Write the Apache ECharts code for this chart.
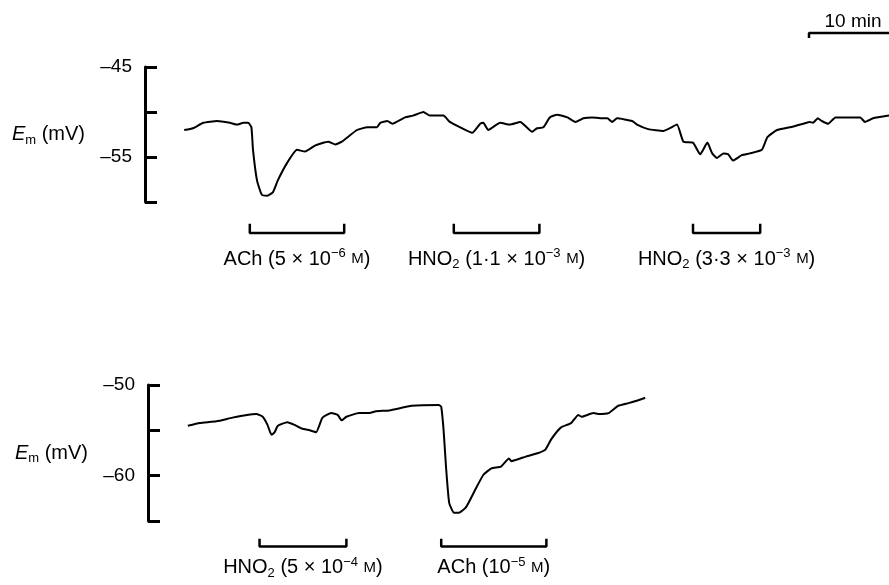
<!DOCTYPE html>
<html>
<head>
<meta charset="utf-8">
<title>Em traces</title>
<script src="https://cdn.jsdelivr.net/npm/echarts@6/dist/echarts.min.js"></script>
<style>
  html, body { margin: 0; padding: 0; background: #fff; }
  #main { width: 889px; height: 585px; }
</style>
</head>
<body>
<div id="main"></div>
<script>
// top trace: time (min) and membrane potential (mV)
var topTime = [4.9, 6.0, 7.3, 9.0, 10.6, 11.5, 12.3, 12.9, 13.3, 13.5, 14.0, 14.6, 15.3, 16.0, 16.6, 17.8, 19.0, 20.0, 21.3, 22.9, 23.8, 24.6, 26.5, 27.8, 29.0, 29.4, 30.3, 30.9, 32.5, 33.5, 34.8, 35.6, 37.3, 38.1, 39.4, 40.9, 41.9, 42.3, 42.9, 44.4, 45.6, 46.9, 48.4, 49.0, 49.8, 50.6, 51.5, 52.8, 53.8, 54.8, 55.9, 56.9, 57.8, 58.4, 59.0, 60.9, 61.5, 62.9, 64.8, 65.6, 66.5, 67.3, 68.5, 69.4, 70.3, 70.9, 71.5, 72.3, 72.9, 73.5, 74.6, 75.6, 77.1, 77.8, 79.0, 80.6, 82.3, 83.1, 83.5, 84.1, 84.6, 85.4, 86.3, 87.8, 89.4, 90.0, 91.0, 93.0];
var topEm = [-52.0, -51.8, -51.2, -51.0, -51.2, -51.4, -51.2, -51.2, -51.7, -54.2, -57.6, -59.2, -59.3, -58.9, -57.6, -55.6, -54.2, -54.4, -53.7, -53.3, -53.6, -53.3, -52.0, -51.7, -51.7, -51.2, -51.0, -51.3, -50.6, -50.4, -50.0, -50.4, -50.4, -51.1, -51.7, -52.3, -51.3, -51.2, -52.0, -51.2, -51.4, -51.1, -52.2, -51.8, -51.7, -50.6, -50.3, -50.6, -51.1, -50.7, -50.6, -50.7, -50.7, -51.1, -50.7, -51.0, -51.4, -51.9, -52.1, -51.8, -51.4, -53.3, -53.4, -54.7, -53.4, -54.6, -55.1, -54.6, -54.7, -55.4, -54.8, -54.6, -54.2, -52.8, -52.0, -51.7, -51.3, -51.1, -51.2, -50.7, -51.0, -51.3, -50.6, -50.6, -50.6, -51.1, -50.7, -50.4];

// bottom trace
var botTime = [5.0, 6.5, 8.6, 10.6, 12.4, 13.6, 14.4, 15.0, 15.5, 15.9, 16.3, 17.5, 18.4, 19.3, 20.3, 21.1, 21.9, 23.0, 23.8, 24.3, 24.9, 26.5, 27.8, 28.6, 30.3, 33.1, 36.5, 36.8, 37.1, 37.4, 37.8, 38.4, 39.0, 39.9, 41.1, 42.1, 43.1, 44.3, 45.3, 45.6, 47.4, 49.0, 49.9, 50.6, 51.8, 53.1, 54.0, 54.4, 55.9, 56.5, 57.8, 59.0, 60.3, 61.1, 62.4];
var botEm = [-54.5, -54.2, -54.0, -53.6, -53.3, -53.2, -53.5, -54.4, -55.5, -55.2, -54.5, -54.1, -54.4, -54.8, -55.0, -55.2, -53.6, -53.1, -53.3, -53.9, -53.5, -53.1, -53.1, -52.9, -52.8, -52.3, -52.2, -52.4, -55.0, -59.0, -63.0, -64.1, -64.1, -63.5, -61.5, -59.9, -59.2, -59.0, -58.1, -58.4, -57.9, -57.5, -57.1, -56.0, -54.7, -54.2, -53.3, -53.5, -53.1, -53.2, -53.1, -52.3, -52.0, -51.8, -51.4];

// drug applications (start, end in min) and their labels
var topApps = [[13.1, 24.9], [38.6, 49.3], [68.5, 76.9]];
var topAppLabels = ['ACh (5 × 10{sup|−6} {sc|M})', 'HNO{sub|2} (1·1 × 10{sup|−3} {sc|M})', 'HNO{sub|2} (3·3 × 10{sup|−3} {sc|M})'];
var botApps = [[14.0, 24.9], [36.8, 50.0]];
var botAppLabels = ['HNO{sub|2} (5 × 10{sup|−4} {sc|M})', 'ACh (10{sup|−5} {sc|M})'];

// axis ranges / labelled ticks
var topRange = [-60, -45];
var topTickLabels = [-45, -55];
var botRange = [-65, -50];
var botTickLabels = [-50, -60];
var scaleBar = [83.0, 93.0];
var scaleBarLabel = '10 min';

var FONT = '"Liberation Sans", Arial, Helvetica, sans-serif';
var richStyles = {
    sup: { fontSize: 13, lineHeight: 13, verticalAlign: 'top', fontFamily: FONT, color: '#000' },
    sub: { fontSize: 13, lineHeight: 13, verticalAlign: 'bottom', fontFamily: FONT, color: '#000' },
    sc: { fontSize: 15, fontFamily: FONT, color: '#000' },
    it: { fontSize: 20, fontStyle: 'italic', fontFamily: FONT, color: '#000' }
};

function zip(a, b) {
    return a.map(function (v, i) { return [v, b[i]]; });
}

function hiddenX(gridIndex) {
    return { type: 'value', gridIndex: gridIndex, min: 0, max: 93, show: false };
}

function traceY(gridIndex, range, labelled) {
    return {
        type: 'value', gridIndex: gridIndex, min: range[0], max: range[1], interval: 5,
        name: '{it|E}{sub|m} (mV)',
        nameLocation: 'middle', nameRotate: 0, nameGap: 60,
        nameTextStyle: { fontSize: 20, lineHeight: 24, fontFamily: FONT, color: '#000', align: 'right', rich: richStyles },
        axisLine: { show: true, lineStyle: { color: '#000', width: 3 } },
        axisTick: { show: true, inside: true, length: 12, lineStyle: { color: '#000', width: 3 } },
        splitLine: { show: false },
        axisLabel: {
            margin: 13, fontSize: 19, fontFamily: FONT, color: '#000',
            formatter: function (v) { return labelled.indexOf(v) >= 0 ? '–' + Math.abs(v) : ''; }
        }
    };
}

function hiddenY(gridIndex, min, max) {
    return { type: 'value', gridIndex: gridIndex, min: min, max: max, show: false };
}

var series = [
    { type: 'line', xAxisIndex: 0, yAxisIndex: 0, data: zip(topTime, topEm), showSymbol: false, smooth: 0.15,
      lineStyle: { color: '#000', width: 2 } },
    { type: 'line', xAxisIndex: 2, yAxisIndex: 2, data: zip(botTime, botEm), showSymbol: false, smooth: 0.15,
      lineStyle: { color: '#000', width: 2 } }
];

function addBrackets(apps, labels, axisIndex) {
    apps.forEach(function (a) {
        series.push({
            type: 'line', xAxisIndex: axisIndex, yAxisIndex: axisIndex, showSymbol: false, silent: true,
            data: [[a[0], 0.75], [a[0], 0.35], [a[1], 0.35], [a[1], 0.75]],
            lineStyle: { color: '#000', width: 2.5, cap: 'square' }
        });
    });
    series.push({
        type: 'scatter', xAxisIndex: axisIndex, yAxisIndex: axisIndex, symbolSize: 0, silent: true,
        itemStyle: { opacity: 1 },
        data: apps.map(function (a, i) { return [(a[0] + a[1]) / 2, -0.95, labels[i]]; }),
        label: {
            show: true, position: 'inside', fontSize: 20, lineHeight: 24, fontFamily: FONT, color: '#000',
            formatter: function (p) { return p.value[2]; }, rich: richStyles
        }
    });
}
addBrackets(topApps, topAppLabels, 1);
addBrackets(botApps, botAppLabels, 3);

// time scale bar
series.push({
    type: 'line', xAxisIndex: 4, yAxisIndex: 4, showSymbol: false, silent: true,
    data: [[scaleBar[0], 0], [scaleBar[0], 0.5], [scaleBar[1], 0.5]],
    lineStyle: { color: '#000', width: 2.5 }
});
series.push({
    type: 'scatter', xAxisIndex: 4, yAxisIndex: 4, symbolSize: 0, silent: true,
    itemStyle: { opacity: 1 },
    data: [[(scaleBar[0] + scaleBar[1]) / 2, 1.6, scaleBarLabel]],
    label: { show: true, position: 'inside', offset: [4, 0], fontSize: 19, fontFamily: FONT, color: '#000',
             formatter: function (p) { return p.value[2]; } }
});

var chart = echarts.init(document.getElementById('main'), null, { renderer: 'canvas' });
chart.setOption({
    animation: false,
    backgroundColor: '#fff',
    grid: [
        { left: 145, top: 67, width: 744, height: 135 },
        { left: 145, top: 220, width: 744, height: 60 },
        { left: 148, top: 385, width: 744, height: 136 },
        { left: 148, top: 536, width: 744, height: 60 },
        { left: 145, top: 18, width: 744, height: 20 }
    ],
    xAxis: [hiddenX(0), hiddenX(1), hiddenX(2), hiddenX(3), hiddenX(4)],
    yAxis: [
        traceY(0, topRange, topTickLabels),
        hiddenY(1, -2, 1),
        traceY(2, botRange, botTickLabels),
        hiddenY(3, -2, 1),
        hiddenY(4, 0, 2)
    ],
    series: series
});
</script>
</body>
</html>
